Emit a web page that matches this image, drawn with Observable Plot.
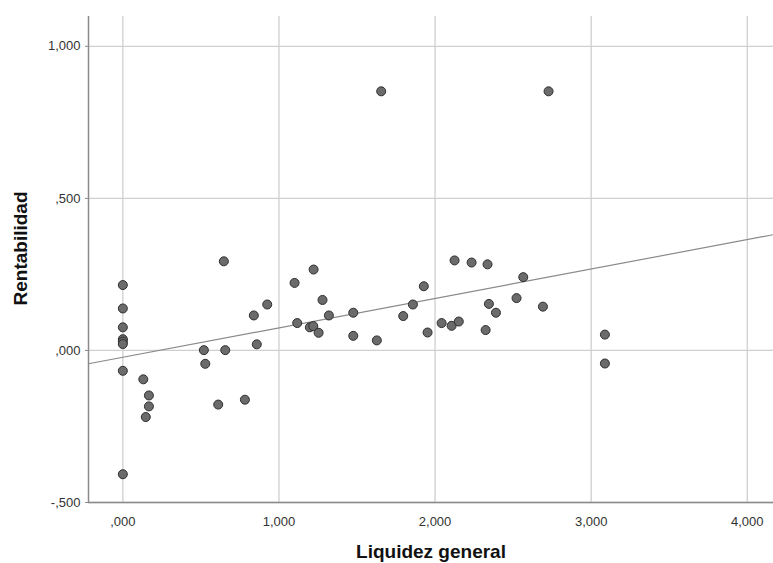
<!DOCTYPE html>
<html>
<head>
<meta charset="utf-8">
<script src="https://cdn.jsdelivr.net/npm/d3@7"></script>
<script src="https://cdn.jsdelivr.net/npm/@observablehq/plot@0.6"></script>
<style>
  html, body { margin: 0; padding: 0; background: #fff; }
  #chart svg { display: block; }
</style>
</head>
<body>
<div id="chart"></div>
<script>
// Liquidez general (x) values
const liquidez = [
  0, 0, 0, 0, 0, 0, 0, 0,
  0.131, 0.167, 0.167, 0.147,
  0.519, 0.528, 0.656, 0.611, 0.782, 0.839, 0.925, 0.858, 0.647,
  1.117, 1.100, 1.222, 1.279, 1.198, 1.220, 1.254, 1.320, 1.476, 1.476, 1.627, 1.655,
  1.796, 1.858, 1.928, 1.952,
  2.042, 2.106, 2.152, 2.125, 2.234, 2.336, 2.345, 2.390, 2.324, 2.522, 2.565, 2.691, 2.727,
  3.088, 3.088
];
// Rentabilidad (y) values
const rentabilidad = [
  0.215, 0.138, 0.076, 0.037, 0.029, 0.021, -0.067, -0.407,
  -0.095, -0.148, -0.184, -0.219,
  0.001, -0.044, 0.001, -0.178, -0.162, 0.115, 0.151, 0.020, 0.293,
  0.090, 0.222, 0.266, 0.166, 0.076, 0.080, 0.058, 0.115, 0.124, 0.048, 0.033, 0.852,
  0.113, 0.151, 0.211, 0.059,
  0.090, 0.081, 0.095, 0.296, 0.289, 0.283, 0.153, 0.124, 0.067, 0.172, 0.241, 0.144, 0.852,
  0.052, -0.043
];
// Linear fit line
const fitIntercept = -0.0224;
const fitSlope = 0.0967;

const xTicks = [0, 1, 2, 3, 4];
const yTicks = [-0.5, 0, 0.5, 1];
const xLabel = "Liquidez general";
const yLabel = "Rentabilidad";

const xDomain = [-0.22, 4.168];
const yDomain = [-0.5, 1.098];

const points = liquidez.map((x, i) => ({x, y: rentabilidad[i]}));
const fit = xDomain.map(x => ({x, y: fitIntercept + fitSlope * x}));

// SPSS-style European format: ",000", "1,000", "-,500"
const fmt = v => {
  const s = Math.abs(v).toFixed(3).replace(".", ",").replace(/^0,/, ",");
  return (v < 0 ? "-" : "") + s;
};

const chart = Plot.plot({
  width: 773,
  height: 563,
  marginLeft: 88,
  marginRight: 0,
  marginTop: 16,
  marginBottom: 61,
  style: {fontFamily: "Arial, 'Liberation Sans', sans-serif", fontSize: "13px", color: "#333", background: "#fff"},
  x: {domain: xDomain, ticks: xTicks, tickFormat: fmt, label: null},
  y: {domain: yDomain, ticks: yTicks, tickFormat: fmt, label: null},
  marks: [
    Plot.gridX(xTicks, {stroke: "#cfcfcf", strokeOpacity: 1, strokeWidth: 1.3}),
    Plot.gridY(yTicks, {stroke: "#cfcfcf", strokeOpacity: 1, strokeWidth: 1.3}),
    Plot.axisX(xTicks, {tickFormat: fmt, tickSize: 0, tickPadding: 14, stroke: "#888", fill: "#333", fontSize: 13}),
    Plot.axisY(yTicks, {tickFormat: fmt, tickSize: 3, tickPadding: 5, stroke: "#888", fill: "#333", fontSize: 13}),
    Plot.ruleX([xDomain[0]], {stroke: "#8a8a8a", strokeWidth: 1.5}),
    Plot.ruleY([yDomain[0]], {stroke: "#8a8a8a", strokeWidth: 1.5}),
    Plot.line(fit, {x: "x", y: "y", stroke: "#8a8a8a", strokeWidth: 1.2}),
    Plot.dot(points, {x: "x", y: "y", r: 4.5, fill: "#6b6b6b", stroke: "#2e2e2e", strokeWidth: 1, fillOpacity: 1}),
    Plot.text([xLabel], {frameAnchor: "bottom", dy: 49, fontSize: 19, fontWeight: "bold", fill: "#111", textAnchor: "middle", lineAnchor: "middle"}),
    Plot.text([yLabel], {frameAnchor: "left", dx: -68, dy: -11, rotate: -90, fontSize: 19, fontWeight: "bold", fill: "#111", textAnchor: "middle", lineAnchor: "middle"})
  ]
});
document.getElementById("chart").appendChild(chart);
</script>
</body>
</html>
